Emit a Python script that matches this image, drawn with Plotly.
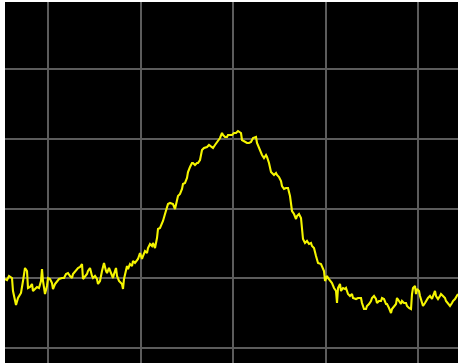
import plotly.graph_objects as go

# Trace readings: frequency bin index and amplitude (arbitrary units)
bins = [0, 2, 4, 7, 8, 11, 13, 16, 18, 20, 22, 23, 25, 27, 28, 30, 32, 34, 36, 37,
        38, 40, 42, 43, 45, 47, 48, 50, 52, 54, 57, 59, 61, 63, 65, 67, 68, 71, 73, 75,
        77, 78, 80, 82, 83, 85, 87, 88, 90, 92, 93, 95, 97, 98, 99, 101, 102, 104, 106, 108,
        109, 111, 112, 114, 117, 118, 119, 121, 122, 123, 125, 127, 128, 130, 132, 133, 135, 137, 138, 140,
        142, 143, 145, 147, 148, 150, 152, 153, 155, 157, 158, 160, 162, 163, 165, 167, 168, 170, 172, 173,
        175, 177, 178, 180, 182, 183, 185, 187, 188, 190, 192, 193, 195, 196, 197, 199, 202, 204, 206, 208,
        210, 212, 213, 215, 217, 218, 220, 222, 223, 225, 227, 229, 231, 233, 236, 237, 239, 241, 242, 244,
        246, 248, 251, 252, 254, 256, 257, 259, 261, 262, 264, 266, 267, 269, 271, 272, 274, 276, 277, 279,
        281, 283, 285, 286, 287, 289, 291, 292, 294, 296, 297, 298, 300, 302, 304, 306, 307, 309, 311, 313,
        316, 317, 319, 320, 322, 323, 325, 327, 329, 331, 332, 333, 335, 336, 338, 340, 341, 343, 345, 347,
        348, 351, 353, 356, 357, 359, 361, 362, 364, 366, 367, 369, 371, 372, 374, 376, 377, 379, 381, 382,
        384, 386, 387, 389, 391, 392, 394, 396, 397, 399, 401, 402, 404, 406, 407, 408, 410, 411, 412, 414,
        415, 417, 418, 420, 422, 423, 425, 427, 428, 430, 431, 433, 435, 436, 438, 440, 441, 443, 445, 447,
        448, 450, 452, 453]

level = [84, 83, 87, 85, 72, 58, 65, 70, 82, 95, 92, 75, 76, 79, 72, 74, 76, 75, 82, 94,
         82, 69, 77, 85, 84, 80, 74, 79, 82, 84, 85, 85, 89, 90, 87, 85, 89, 93, 95, 96,
         99, 84, 87, 89, 92, 95, 87, 85, 87, 84, 79, 82, 92, 97, 100, 92, 90, 95, 90, 85,
         89, 95, 87, 82, 79, 74, 84, 92, 97, 94, 99, 97, 102, 100, 102, 104, 110, 104, 107, 112,
         110, 115, 119, 117, 120, 115, 125, 134, 135, 139, 142, 149, 155, 159, 160, 159, 159, 154, 162, 167,
         169, 174, 179, 180, 185, 191, 196, 200, 200, 198, 200, 200, 203, 210, 213, 215, 216, 218, 216, 215,
         218, 221, 223, 225, 230, 228, 226, 226, 228, 228, 228, 230, 230, 232, 230, 223, 222, 221, 220, 220,
         221, 225, 226, 220, 215, 210, 208, 205, 208, 206, 200, 191, 190, 188, 190, 188, 186, 182, 177, 174,
         175, 175, 167, 159, 152, 149, 144, 147, 149, 145, 135, 124, 120, 122, 119, 120, 117, 115, 107, 100,
         99, 97, 92, 82, 87, 85, 82, 80, 75, 72, 60, 75, 79, 72, 75, 74, 75, 69, 67, 69,
         65, 64, 65, 65, 60, 54, 54, 57, 59, 62, 65, 67, 64, 60, 62, 62, 65, 64, 59, 59,
         55, 50, 54, 57, 59, 65, 62, 59, 62, 60, 60, 57, 55, 54, 69, 75, 77, 69, 74, 72,
         67, 60, 57, 60, 64, 65, 67, 64, 67, 72, 67, 64, 67, 69, 67, 65, 62, 59, 57, 60,
         62, 64, 67, 69]

# Graticule: 92.5 bins per horizontal division, 69.75 units per vertical division
x_range = [0, 453]
y_range = [0, 361]

fig = go.Figure()
fig.add_trace(go.Scatter(
    x=bins, y=level, mode="lines",
    line=dict(color="#f5f500", width=2.1),
    hoverinfo="skip", showlegend=False,
))

axis_common = dict(
    showticklabels=False, ticks="", showgrid=True,
    gridcolor="#5c5c5c", gridwidth=2, zeroline=False,
    showline=False, fixedrange=True,
)
fig.update_xaxes(range=x_range, tick0=43, dtick=92.5, **axis_common)
fig.update_yaxes(range=y_range, tick0=15, dtick=69.75, **axis_common)

fig.update_layout(
    width=458, height=363,
    margin=dict(l=5, r=0, t=2, b=0, pad=0),
    paper_bgcolor="white", plot_bgcolor="black",
    showlegend=False,
)

fig.write_html("out.html", config={"displayModeBar": False})

# remove default body margin so the figure sits at the window origin
with open("out.html", "r", encoding="utf-8") as f:
    html = f.read()
html = html.replace("<body>", '<body style="margin:0;padding:0;overflow:hidden;">', 1)
with open("out.html", "w", encoding="utf-8") as f:
    f.write(html)
